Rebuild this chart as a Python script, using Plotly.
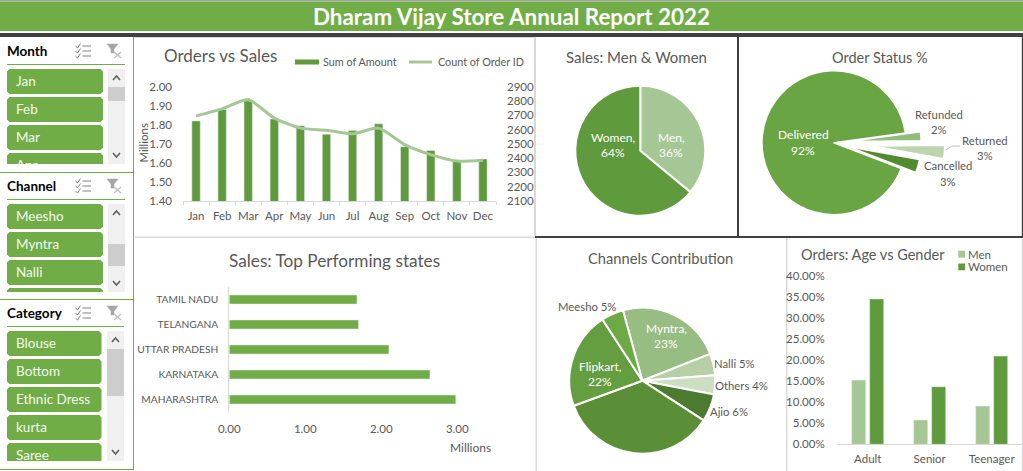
import plotly.graph_objects as go

W, H = 1023, 471
FONT = "Lato"
GREY = "#595959"

# ---- data ----
months = ["Jan", "Feb", "Mar", "Apr", "May", "Jun", "Jul", "Aug", "Sep", "Oct", "Nov", "Dec"]
sum_amount = [1.82, 1.88, 1.925, 1.83, 1.795, 1.75, 1.77, 1.805, 1.685, 1.665, 1.61, 1.62]
order_count = [2695, 2745, 2810, 2680, 2610, 2595, 2570, 2610, 2495, 2425, 2380, 2385]

gender_labels = ["Men", "Women"]
gender_values = [36, 64]

status_labels = ["Delivered", "Refunded", "Returned", "Cancelled"]
status_values = [92, 2, 3, 3]
status_pull = [0, 0.21, 0.54, 0.21]

state_names = ["MAHARASHTRA", "KARNATAKA", "UTTAR PRADESH", "TELANGANA", "TAMIL NADU"]
state_sales = [2.98, 2.64, 2.10, 1.70, 1.68]

channel_labels = ["Myntra", "Nalli", "Others", "Ajio", "Amazon", "Flipkart", "Meesho"]
channel_values = [23.3, 4.8, 4.2, 6.1, 35.3, 21.4, 4.9]

age_groups = ["Adult", "Senior", "Teenager"]
age_men = [15.3, 5.8, 9.1]
age_women = [34.6, 13.7, 21.0]

slicer_month = ["Jan", "Feb", "Mar", "Apr"]
slicer_channel = ["Meesho", "Myntra", "Nalli"]
slicer_category = ["Blouse", "Bottom", "Ethnic Dress", "kurta", "Saree"]

C_DARK = "#5F9A3C"
C_LIGHT = "#A5C795"
C_MAIN = "#70AD47"


def px(x):
    return x / W


def py(y):
    return 1 - y / H


def dx(a, b):
    return [px(a), px(b)]


def dy(top, bottom):
    return [py(bottom), py(top)]


shapes = []
annotations = []


def rect(x0, y0, x1, y1, color):
    shapes.append(dict(type="rect", xref="paper", yref="paper", x0=px(x0), x1=px(x1), y0=py(y0), y1=py(y1),
                       fillcolor=color, line_width=0, layer="below"))


def path(points, color, width=1.0, fill=None):
    d = "M" + " L".join(f"{px(a):.5f},{py(b):.5f}" for a, b in points)
    if fill:
        d += " Z"
    shapes.append(dict(type="path", xref="paper", yref="paper", path=d, layer="below",
                       line=dict(color=color, width=width), fillcolor=fill or "rgba(0,0,0,0)"))


def button(x0, y0, x1, y1, clipped=False):
    r = 2.5
    pts = [(x0 + r, y0), (x1 - r, y0), (x1, y0 + r)]
    if clipped:
        pts += [(x1, y1), (x0, y1)]
    else:
        pts += [(x1, y1 - r), (x1 - r, y1), (x0 + r, y1), (x0, y1 - r)]
    pts += [(x0, y0 + r)]
    d = "M" + " L".join(f"{px(a):.5f},{py(b):.5f}" for a, b in pts) + " Z"
    shapes.append(dict(type="path", xref="paper", yref="paper", path=d, layer="below",
                       fillcolor=C_MAIN, line_width=0))


def text(x, y, s, size=12, color=GREY, anchor="center", bold=False, angle=0):
    annotations.append(dict(xref="paper", yref="paper", x=px(x), y=py(y), text=f"<b>{s}</b>" if bold else s,
                            showarrow=False, xanchor=anchor, yanchor="middle", textangle=angle,
                            font=dict(family=FONT, size=size, color=color),
                            borderpad=0, borderwidth=0))


# ---- page frame ----
rect(0, 0, W, 1.5, "#A6A6A6")
rect(0, 1.5, W, 31, C_MAIN)
rect(0, 33, W, 37, "#404040")
text(511, 17, "Dharam Vijay Store Annual Report 2022", size=22.4, color="white", bold=True)

rect(133, 37, 134, 470, C_MAIN)
rect(135, 37, 534, 38, "#D9D9D9")
rect(135, 236.5, 535, 238, "#D9D9D9")
rect(534, 37, 536, 236, "#D9D9D9")
rect(737, 37, 739, 237, "#404040")
rect(535, 236, W, 238, "#404040")
rect(1021.8, 37, W, 237, "#404040")
rect(1021.8, 238, W, H, "#D9D9D9")
rect(535.5, 238, 537, H, "#D9D9D9")
rect(786, 238, 787.5, H, "#D9D9D9")
rect(0, 172, 133, 173, C_MAIN)
rect(0, 299, 133, 300, C_MAIN)
rect(0, 469, 134, 470, C_MAIN)

# ---- slicers ----
fig = go.Figure()
layout_extra = {}


def slicer(title, items, n_buttons, head_y, line_y, top, bottom, x1, sx0, sx1, th0, th1, axis_no):
    text(7, head_y, title, size=13.5, color="#000000", anchor="left", bold=True)
    rect(7, line_y, sx1, line_y + 1, C_MAIN)
    # check-list icon
    ix = 75.5
    for k in range(3):
        yy = head_y - 5 + k * 5
        path([(ix, yy), (ix + 2, yy + 2), (ix + 5, yy - 2.5)], "#7F7F7F", 1)
        rect(ix + 7, yy - 0.5, ix + 15.5, yy + 0.5, "#7F7F7F")
    # clear-filter icon
    fx = 107
    path([(fx, head_y - 7), (fx + 11, head_y - 7), (fx + 7, head_y - 2), (fx + 7, head_y + 2),
          (fx + 4, head_y + 2), (fx + 4, head_y - 2)], "#A6A6A6", 0.5, fill="#A6A6A6")
    path([(fx + 7, head_y + 1), (fx + 14, head_y + 7)], "#BFBFBF", 1.5)
    path([(fx + 14, head_y + 1), (fx + 7, head_y + 7)], "#BFBFBF", 1.5)
    # buttons
    for i in range(n_buttons):
        y0 = top + i * 28
        y1 = y0 + 25
        if y0 >= bottom:
            break
        button(7, y0, x1, min(y1, bottom), clipped=y1 > bottom)
    # scrollbar
    rect(sx0, top, sx1, bottom, "#F0F0F0")
    rect(sx0, th0, sx1, th1, "#CDCDCD")
    cx = (sx0 + sx1) / 2
    path([(cx - 3.5, top + 11), (cx, top + 7), (cx + 3.5, top + 11)], "#606060", 1.6)
    path([(cx - 3.5, bottom - 11), (cx, bottom - 7), (cx + 3.5, bottom - 11)], "#606060", 1.6)
    # clipped item text on a hidden axis whose rows are 28 px tall
    xa, ya = f"xaxis{axis_no}", f"yaxis{axis_no}"
    fig.add_trace(go.Scatter(x=[0] * len(items), y=list(range(len(items))), text=items, mode="text",
                             textposition="middle right", cliponaxis=True, hoverinfo="skip", showlegend=False,
                             textfont=dict(family=FONT, size=13.5, color="#F4FAEF"),
                             xaxis=f"x{axis_no}", yaxis=f"y{axis_no}"))
    layout_extra[xa] = dict(domain=dx(7, x1), range=[-9, x1 - 16], visible=False, fixedrange=True,
                            anchor=f"y{axis_no}")
    layout_extra[ya] = dict(domain=dy(top, bottom), visible=False, fixedrange=True, anchor=f"x{axis_no}",
                            range=[(bottom - top - 13.5) / 28, -13.5 / 28])


slicer("Month", slicer_month, 4, 51, 64, 69, 164, 103, 108, 125, 87, 101, 6)
slicer("Channel", slicer_channel, 4, 186, 199, 204, 292, 103, 108, 125, 244, 266, 7)
slicer("Category", slicer_category, 5, 313, 326, 331, 461, 101.5, 107, 124, 349, 396, 8)

# ---- Orders vs Sales ----
fig.add_trace(go.Bar(x=months, y=sum_amount, name="Sum of Amount", marker_color=C_DARK, width=0.32,
                     xaxis="x", yaxis="y", showlegend=False))
fig.add_trace(go.Scatter(x=months, y=order_count, name="Count of Order ID", mode="lines",
                         line=dict(color=C_LIGHT, width=3, shape="spline", smoothing=0.6),
                         xaxis="x", yaxis="y2", showlegend=False))

# ---- Top states ----
fig.add_trace(go.Bar(y=state_names, x=state_sales, orientation="h", marker_color=C_MAIN, width=0.36,
                     xaxis="x3", yaxis="y3", showlegend=False))

# ---- Age vs gender ----
fig.add_trace(go.Bar(x=age_groups, y=age_men, name="Men", marker_color=C_LIGHT, width=0.226, offset=-0.258,
                     xaxis="x4", yaxis="y4", showlegend=False))
fig.add_trace(go.Bar(x=age_groups, y=age_women, name="Women", marker_color=C_DARK, width=0.226, offset=0.032,
                     xaxis="x4", yaxis="y4", showlegend=False))


# ---- Pies ----
def pie_domain(cx, cy, r):
    return dict(x=dx(cx - r, cx + r), y=dy(cy - r, cy + r))


fig.add_trace(go.Pie(labels=gender_labels, values=gender_values, sort=False, direction="clockwise", rotation=0,
                     domain=pie_domain(640.3, 150.7, 65), textinfo="none", showlegend=False,
                     marker=dict(colors=[C_LIGHT, C_DARK], line=dict(color="white", width=2))))
fig.add_trace(go.Pie(labels=status_labels, values=status_values, sort=False, direction="clockwise", rotation=111,
                     pull=status_pull, domain=pie_domain(834, 142.7, 72 * 1.54), textinfo="none", showlegend=False,
                     marker=dict(colors=["#6AA544", "#93BB7B", "#BDD5AE", "#528A30"],
                                 line=dict(color="white", width=1.5))))
fig.add_trace(go.Pie(labels=channel_labels, values=channel_values, sort=False, direction="clockwise", rotation=-15.4,
                     domain=pie_domain(642.3, 380.7, 73), textinfo="none", showlegend=False,
                     marker=dict(colors=["#97BD83", "#B6CFA6", "#CDDFC2", "#4C7A2E", "#5A8F38", "#659E40", "#6DAA45"],
                                 line=dict(color="white", width=2))))

# ---- Chart titles and labels ----
text(220, 56, "Orders vs Sales", size=17)
text(334, 260, "Sales: Top Performing states", size=17.2)
text(470, 447, "Millions", size=12)
text(143.5, 143, "Millions", size=11.5, angle=-90)
text(636, 57, "Sales: Men &amp; Women", size=15)
text(880, 58, "Order Status %", size=14.5)
text(660.5, 258, "Channels Contribution", size=14.7)
text(873, 254, "Orders: Age vs Gender", size=14.5)

# legends
rect(295, 59.5, 319, 64.5, C_DARK)
text(323, 62, "Sum of Amount", size=10.8, anchor="left")
rect(409, 60.5, 432, 63.5, C_LIGHT)
text(438, 62, "Count of Order ID", size=10.8, anchor="left")
rect(958.3, 250.7, 965, 257.7, C_LIGHT)
text(968.3, 254, "Men", size=11.5, anchor="left")
rect(958.3, 263.5, 965, 270.3, C_DARK)
text(968.3, 266, "Women", size=11.5, anchor="left")

for (x, y, s, c) in [
    (613, 138, "Women,", "white"), (613, 153, "64%", "white"),
    (671, 138, "Men,", "white"), (671, 153, "36%", "white"),
    (803, 135, "Delivered", "white"), (803, 151, "92%", "white"),
    (939, 115, "Refunded", GREY), (939, 130, "2%", GREY),
    (985, 141, "Returned", GREY), (985, 156, "3%", GREY),
    (948, 166, "Cancelled", GREY), (948, 181, "3%", GREY),
    (587, 306, "Meesho 5%", GREY),
    (666, 328, "Myntra,", "white"), (666, 343, "23%", "white"),
    (734, 363, "Nalli 5%", GREY), (741, 385, "Others 4%", GREY), (729, 411, "Ajio 6%", GREY),
    (600, 366, "Flipkart,", "white"), (600, 381, "22%", "white"),
]:
    text(x, y, s, size=12 if c == "white" else 11.3, color=c)

path([(946, 150), (952, 146), (960, 146)], "#BFBFBF", 1)

AX = dict(family=FONT, size=11.5, color=GREY)
layout = dict(
    width=W, height=H, margin=dict(l=0, r=0, t=0, b=0, autoexpand=False), autosize=False,
    paper_bgcolor="white", plot_bgcolor="rgba(0,0,0,0)", font=dict(family=FONT, color=GREY),
    barmode="group", shapes=shapes, annotations=annotations, showlegend=False,
    xaxis=dict(domain=dx(183, 496), anchor="y", type="category", categoryorder="array", categoryarray=months,
               range=[-0.5, 11.5], tickson="boundaries", ticks="outside", ticklen=3, tickcolor="#D9D9D9",
               showline=True, linecolor="#D9D9D9", showgrid=False, tickfont=AX, ticklabelstandoff=4, zeroline=False,
               tickangle=0),
    yaxis=dict(domain=dy(86.7, 201), anchor="x", range=[1.4, 2.0], dtick=0.1, tickformat=".2f", showgrid=False,
               zeroline=False, tickfont=AX, ticks="", ticklabelstandoff=10),
    yaxis2=dict(domain=dy(86.7, 201), anchor="x", overlaying="y", side="right", range=[2100, 2900], dtick=100,
                showgrid=False, zeroline=False, tickfont=AX, ticks="", ticklabelstandoff=10),
    xaxis3=dict(domain=dx(229.3, 495.3), anchor="y3", range=[0, 3.5], dtick=1, tickformat=".2f", showgrid=False,
                zeroline=False, tickfont=AX, ticks="", showline=False, ticklabelstandoff=8),
    yaxis3=dict(domain=dy(287, 412), anchor="x3", type="category", categoryorder="array", categoryarray=state_names,
                range=[-0.5, 4.5], showline=True, linecolor="#D9D9D9", showgrid=False, ticks="",
                tickfont=dict(family=FONT, size=10.2, color=GREY), ticklabelstandoff=8, zeroline=False),
    xaxis4=dict(domain=dx(836.7, 1022.7), anchor="y4", type="category", categoryorder="array", categoryarray=age_groups,
                range=[-0.5, 2.5], showline=True, linecolor="#D9D9D9", showgrid=False, ticks="", tickfont=AX,
                ticklabelstandoff=4, zeroline=False, tickangle=0),
    yaxis4=dict(domain=dy(276.3, 444.3), anchor="x4", range=[0, 40], dtick=5, ticksuffix="%", tickformat=".2f",
                showgrid=False, zeroline=False, tickfont=AX, ticks="", ticklabelstandoff=11),
)
layout.update(layout_extra)
fig.update_layout(**layout)

fig.write_html("out.html", config={"displayModeBar": False},
               post_script="document.body.style.margin='0';document.documentElement.style.overflow='hidden';")
